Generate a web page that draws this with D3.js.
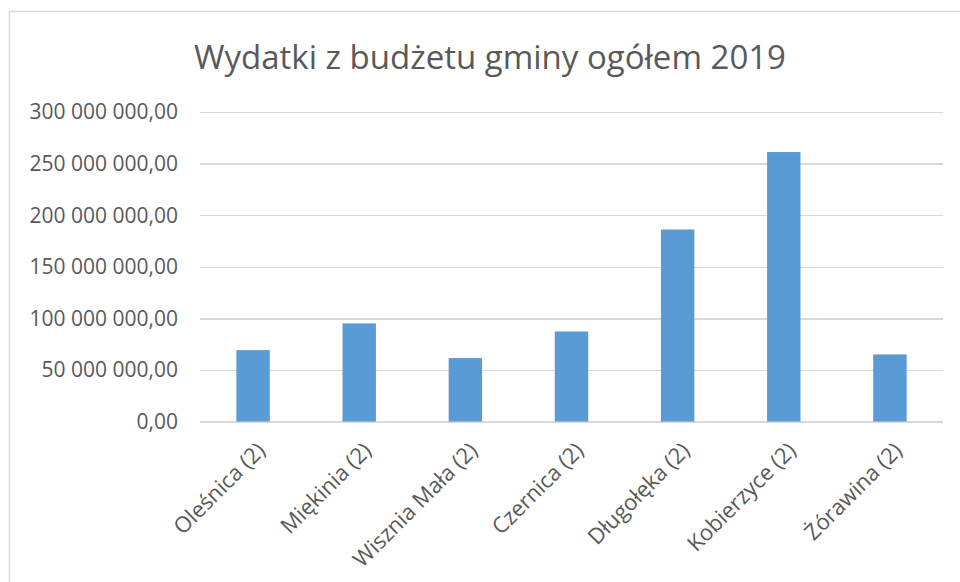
<!DOCTYPE html>
<html>
<head>
<meta charset="utf-8">
<style>
  body { margin: 0; background: #fff; }
  svg { display: block; font-family: "Open Sans", sans-serif; }
  .grid line { stroke: #d9d9d9; stroke-width: 1.5; shape-rendering: crispEdges; }
  .grid path { display: none; }
  .ylab text { fill: #595959; font-size: 21px; }
  .xlab text { fill: #595959; font-size: 22px; }
</style>
</head>
<body>
<svg width="960" height="582"></svg>
<script src="https://d3js.org/d3.v7.min.js"></script>
<script>
// data
var gminy = ["Oleśnica (2)", "Miękinia (2)", "Wisznia Mała (2)", "Czernica (2)",
             "Długołęka (2)", "Kobierzyce (2)", "Żórawina (2)"];
var wydatki = [69200000, 95100000, 61500000, 87300000, 186100000, 261200000, 65000000];
var yTicks = [0, 50000000, 100000000, 150000000, 200000000, 250000000, 300000000];
var tytul = "Wydatki z budżetu gminy ogółem 2019";

var svg = d3.select("svg");

// chart frame (right and bottom edges fall outside the window)
svg.append("rect")
    .attr("x", 9.5).attr("y", 11.5)
    .attr("width", 1000).attr("height", 700)
    .attr("fill", "#fff")
    .attr("stroke", "#d9d9d9")
    .attr("stroke-width", 1.5);

var plot = {left: 200, right: 943, top: 112, bottom: 421.5};

var x = d3.scaleBand()
    .domain(gminy)
    .range([plot.left, plot.right])
    .paddingInner(0.685)
    .paddingOuter(0.3425);

var y = d3.scaleLinear()
    .domain([0, 300000000])
    .range([plot.bottom, plot.top]);

var pl = d3.formatLocale({decimal: ",", thousands: "\u00a0", grouping: [3], currency: ["", ""]});
var fmt = pl.format(",.2f");

// gridlines
svg.append("g")
    .attr("class", "grid")
    .attr("transform", "translate(" + plot.left + ",0)")
    .call(d3.axisLeft(y).tickValues(yTicks).tickSize(-(plot.right - plot.left)).tickFormat(""));

// y labels
svg.append("g")
    .attr("class", "ylab")
    .selectAll("text")
    .data(yTicks)
    .enter().append("text")
    .attr("x", 178)
    .attr("y", function(d) { return y(d); })
    .attr("dy", "0.35em")
    .attr("text-anchor", "end")
    .text(function(d) { return fmt(d); });

// bars
svg.append("g")
    .selectAll("rect")
    .data(wydatki)
    .enter().append("rect")
    .attr("x", function(d, i) { return x(gminy[i]); })
    .attr("y", function(d) { return y(d); })
    .attr("width", x.bandwidth())
    .attr("height", function(d) { return y(0) - y(d); })
    .attr("fill", "#5b9bd5");

// category labels, rotated
svg.append("g")
    .attr("class", "xlab")
    .selectAll("text")
    .data(gminy)
    .enter().append("text")
    .attr("transform", function(d) {
      return "translate(" + (x(d) + x.bandwidth() / 2 + 8) + "," + (plot.bottom + 25) + ") rotate(-45)";
    })
    .attr("text-anchor", "end")
    .attr("dy", "0.35em")
    .text(function(d) { return d; });

// title
svg.append("text")
    .attr("x", 490)
    .attr("y", 69)
    .attr("text-anchor", "middle")
    .attr("fill", "#595959")
    .attr("font-size", "33px")
    .text(tytul);
</script>
</body>
</html>
